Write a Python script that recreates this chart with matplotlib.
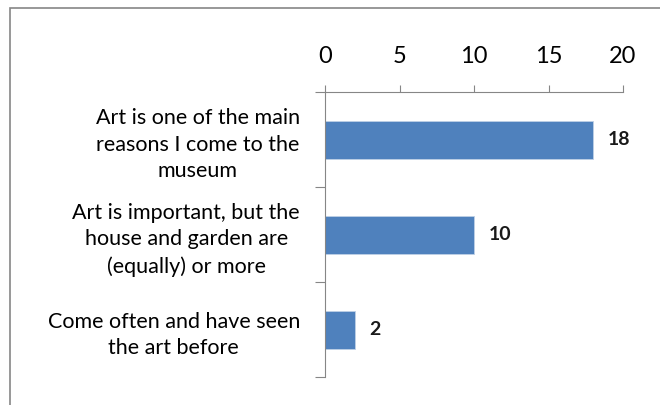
import matplotlib.pyplot as plt
from matplotlib.patches import Rectangle

# Data
categories = ["Art is one of the main\nreasons I come to the\nmuseum",
              "Art is important, but the\nhouse and garden are\n(equally) or more",
              "Come often and have seen\nthe art before"]
counts = [18, 10, 2]
x_ticks = [0, 5, 10, 15, 20]

plt.rcParams['font.family'] = ['Lato', 'DejaVu Sans']

fig = plt.figure(figsize=(6.6, 4.05), dpi=100)
ax = fig.add_axes([325 / 660, 1 - 377 / 405, (623 - 325) / 660, (377 - 92) / 405])

# Outer chart border
fig.patches.append(Rectangle((10 / 660, -0.05), 1.0, 1 - 8 / 405 + 0.05,
                             transform=fig.transFigure, fill=False,
                             edgecolor='#868686', linewidth=1.2))

pos = list(range(len(categories)))
bars = ax.barh(pos, counts, height=0.4, color='#4F81BD', edgecolor='#BFD0E6', linewidth=0.6)

for b, v in zip(bars, counts):
    ax.text(b.get_width() + 1.0, b.get_y() + b.get_height() / 2, str(v),
            va='center', ha='left', fontsize=14, fontweight='bold', color='#1a1a1a')

ax.set_xlim(0, 20)
ax.set_ylim(2.5, -0.5)
ax.xaxis.tick_top()
ax.set_xticks(x_ticks)
ax.set_yticks([-0.5, 0.5, 1.5, 2.5], minor=False)
ax.set_yticklabels([])
ax.set_yticks(pos, minor=True)
ax.set_yticklabels(categories, minor=True)
for t in ax.get_yticklabels(minor=True):
    t.set_multialignment('center')
    t.set_fontsize(15.5)
    t.set_linespacing(1.4)
ax.tick_params(axis='y', which='minor', length=0, pad=18)
ax.tick_params(axis='y', which='major', length=7, color='#868686', direction='out')
ax.tick_params(axis='x', length=5, color='#868686', labelsize=17, pad=13)

for s in ['right', 'bottom']:
    ax.spines[s].set_visible(False)
for s in ['top', 'left']:
    ax.spines[s].set_color('#868686')

fig.savefig('out.png', dpi=100)
